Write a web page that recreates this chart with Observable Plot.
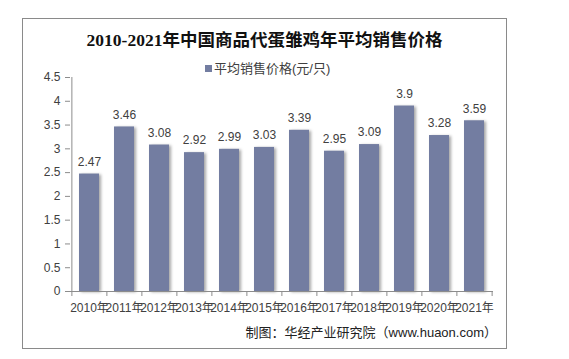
<!DOCTYPE html>
<html>
<head>
<meta charset="utf-8">
<script src="https://cdn.jsdelivr.net/npm/d3@7"></script>
<script src="https://cdn.jsdelivr.net/npm/@observablehq/plot@0.6"></script>
<style>
  html, body { margin: 0; padding: 0; background: #fff; }
  #wrap { position: relative; width: 569px; height: 359px; overflow: hidden; background: #fff; }
  #border { position: absolute; left: 22px; top: 18px; width: 483px; height: 329px; border: 1px solid #8a8a8a; box-sizing: content-box; }
  #title { position: absolute; left: 22px; width: 485px; top: 28px; text-align: center;
    font-family: "Liberation Serif", "Noto Sans CJK SC", serif; font-weight: bold; font-size: 17.5px; color: #111; line-height: 24px; }
  #legend { position: absolute; left: 205px; top: 60px; font-family: "Liberation Sans", "Noto Sans CJK SC", sans-serif;
    font-size: 13px; color: #404040; line-height: 18px; white-space: nowrap; }
  #legend span.sw { display: inline-block; width: 7px; height: 7px; background: #737da1; margin-right: 2px; vertical-align: 1px; }
  #caption { position: absolute; right: 72px; top: 324px; font-family: "Liberation Sans", "Noto Sans CJK SC", sans-serif;
    font-size: 13px; color: #222; line-height: 18px; white-space: nowrap; }
  #plot { position: absolute; left: 0; top: 0; }
</style>
</head>
<body>
<div id="wrap">
  <div id="border"></div>
  <div id="plot"></div>
  <div id="title">2010-2021年中国商品代蛋雏鸡年平均销售价格</div>
  <div id="legend"><span class="sw"></span>平均销售价格(元/只)</div>
  <div id="caption">制图：华经产业研究院（www.huaon.com）</div>
</div>
<script>
const years = ["2010年","2011年","2012年","2013年","2014年","2015年","2016年","2017年","2018年","2019年","2020年","2021年"];
const prices = [2.47, 3.46, 3.08, 2.92, 2.99, 3.03, 3.39, 2.95, 3.09, 3.9, 3.28, 3.59];
const yTicks = [0, 0.5, 1, 1.5, 2, 2.5, 3, 3.5, 4, 4.5];

const data = years.map((y, i) => ({year: y, price: prices[i]}));

const W = 569, H = 359;
const mL = 70, mR = 76, mT = 77, mB = 68;
const step = (W - mL - mR) / years.length;
const axisColor = "#8c8c8c";
const font = "\"Liberation Sans\", \"Noto Sans CJK SC\", sans-serif";

const chart = Plot.plot({
  width: W,
  height: H,
  marginLeft: mL,
  marginRight: mR,
  marginTop: mT,
  marginBottom: mB,
  style: {fontFamily: font, fontSize: "12px", color: "#404040", background: "transparent"},
  x: {domain: years, paddingInner: 0.43, paddingOuter: 0.215, label: null},
  y: {domain: [0, 4.5], label: null},
  marks: [
    Plot.barY(data, {x: "year", y: "price", fill: "#737da1"}),
    Plot.text(data, {x: "year", y: "price", text: d => String(d.price), dy: -12, fill: "#404040", fontSize: 12}),
    Plot.axisY({ticks: yTicks, tickFormat: d => String(d), tickSize: 5, tickPadding: 5, stroke: axisColor, fill: "#404040", fontSize: 12, label: null}),
    Plot.axisX({tickSize: 0, tickPadding: 12, fill: "#404040", fontSize: 12, label: null}),
    Plot.ruleY([0], {stroke: axisColor}),
    Plot.ruleX([years[0]], {x: d => d, y1: 0, y2: 4.5, dx: -step / 2, stroke: axisColor}),
    Plot.ruleX(years, {x: d => d, y1: 0, y2: 0, insetBottom: -5, dx: -step / 2, stroke: axisColor}),
    Plot.ruleX([years[years.length - 1]], {x: d => d, y1: 0, y2: 0, insetBottom: -5, dx: step / 2, stroke: axisColor})
  ]
});
document.getElementById("plot").appendChild(chart);
const barG = chart.querySelector('g[aria-label="bar"]');
if (barG) barG.style.filter = "drop-shadow(2px 1px 1.5px rgba(0,0,0,0.35))";
</script>
</body>
</html>
